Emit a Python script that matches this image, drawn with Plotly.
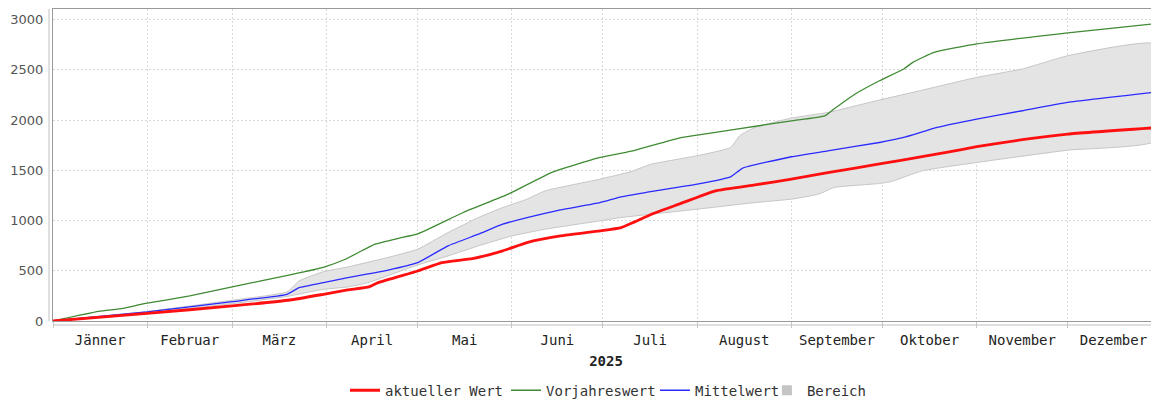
import plotly.graph_objects as go

# ---------------- data ----------------
red_dates = ["2025-01-01", "2025-02-01", "2025-03-01", "2025-03-20", "2025-03-31", "2025-04-08",
             "2025-04-15", "2025-04-18", "2025-05-01", "2025-05-09", "2025-05-19", "2025-05-29",
             "2025-06-06", "2025-06-17", "2025-06-30", "2025-07-07", "2025-07-17", "2025-07-26",
             "2025-08-07", "2025-08-20", "2025-09-01", "2025-09-13", "2025-09-22", "2025-10-08",
             "2025-10-22", "2025-11-01", "2025-11-16", "2025-12-01", "2025-12-31"]
red_vals = [0, 75, 150, 209, 266, 309, 339, 382, 498, 581, 621, 698,
            781, 847, 897, 930, 1063, 1163, 1296, 1355, 1412, 1478, 1522, 1605,
            1678, 1735, 1805, 1861, 1927]

green_dates = ["2025-01-01", "2025-01-16", "2025-01-24", "2025-01-31", "2025-02-15", "2025-03-01",
               "2025-03-20", "2025-03-31", "2025-04-07", "2025-04-17", "2025-04-25", "2025-05-01",
               "2025-05-16", "2025-05-31", "2025-06-14", "2025-06-30", "2025-07-10", "2025-07-26",
               "2025-08-01", "2025-08-14", "2025-09-01", "2025-09-12", "2025-09-15", "2025-09-22",
               "2025-09-30", "2025-10-08", "2025-10-11", "2025-10-18", "2025-11-01", "2025-12-01",
               "2025-12-31"]
green_vals = [0, 95, 125, 172, 250, 340, 460, 535, 612, 765, 825, 867,
              1080, 1265, 1478, 1628, 1688, 1821, 1851, 1910, 1993, 2043, 2110, 2260,
              2392, 2509, 2575, 2675, 2758, 2868, 2963]

blue_dates = ["2025-01-01", "2025-02-01", "2025-03-01", "2025-03-19", "2025-03-23", "2025-03-31",
              "2025-04-08", "2025-04-21", "2025-05-01", "2025-05-11", "2025-05-21", "2025-05-29",
              "2025-06-06", "2025-06-17", "2025-06-30", "2025-07-07", "2025-07-15", "2025-08-01",
              "2025-08-12", "2025-08-16", "2025-09-01", "2025-09-13", "2025-09-30", "2025-10-08",
              "2025-10-19", "2025-11-01", "2025-11-16", "2025-12-01", "2025-12-31"]
blue_vals = [0, 90, 193, 266, 332, 382, 432, 505, 581, 748, 864, 964,
             1030, 1106, 1179, 1236, 1279, 1362, 1435, 1522, 1635, 1694, 1777, 1827,
             1927, 2010, 2093, 2176, 2282]

upper_dates = ["2025-01-01", "2025-02-01", "2025-03-01", "2025-03-19", "2025-03-23", "2025-03-31",
               "2025-04-08", "2025-04-21", "2025-05-01", "2025-05-11", "2025-05-21", "2025-05-29",
               "2025-06-06", "2025-06-12", "2025-06-30", "2025-07-10", "2025-07-17", "2025-08-01",
               "2025-08-12", "2025-08-15", "2025-08-20", "2025-09-01", "2025-09-13", "2025-09-30",
               "2025-10-11", "2025-11-01", "2025-11-16", "2025-12-01", "2025-12-30"]
upper_vals = [0, 95, 206, 289, 399, 491, 538, 631, 714, 880, 1030, 1129,
              1213, 1296, 1412, 1485, 1562, 1645, 1727, 1844, 1927, 2020, 2076, 2200,
              2276, 2425, 2509, 2641, 2758]

lower_dates = ["2025-01-01", "2025-02-01", "2025-03-01", "2025-03-19", "2025-03-31", "2025-04-08",
               "2025-04-15", "2025-05-01", "2025-05-11", "2025-05-21", "2025-06-01", "2025-06-12",
               "2025-06-30", "2025-07-07", "2025-08-01", "2025-08-20", "2025-09-01", "2025-09-10",
               "2025-09-15", "2025-09-30", "2025-10-04", "2025-10-14", "2025-11-01", "2025-12-01",
               "2025-12-30"]
lower_vals = [0, 80, 172, 245, 316, 339, 385, 558, 648, 748, 847, 914,
              997, 1030, 1113, 1179, 1213, 1263, 1329, 1369, 1389, 1495, 1578, 1701,
              1794]

month_names = {"January": "Jänner", "February": "Februar", "March": "März", "April": "April",
               "May": "Mai", "June": "Juni", "July": "Juli", "August": "August",
               "September": "September", "October": "Oktober", "November": "November",
               "December": "Dezember"}

# band polygon: upper boundary forward, lower boundary backward
band_x = upper_dates + lower_dates[::-1]
band_y = upper_vals + lower_vals[::-1]

MONO = "DejaVu Sans Mono"
SANS = "DejaVu Sans"

fig = go.Figure()

fig.add_trace(go.Scatter(
    x=band_x, y=band_y, mode="lines", name="Bereich",
    fill="toself", fillcolor="#e4e4e4",
    line=dict(color="#c6c6c6", width=1, shape="spline", smoothing=0.4),
    showlegend=False, hoverinfo="skip",
))
# legend-only swatch for the band
fig.add_trace(go.Scatter(
    x=[None], y=[None], mode="markers", name="Bereich",
    marker=dict(symbol="square", size=10, color="#c4c4c4"),
    legend="legend4",
))
fig.add_trace(go.Scatter(
    x=green_dates, y=green_vals, mode="lines", name="Vorjahreswert",
    line=dict(color="#3f8a33", width=1.3, shape="spline", smoothing=0.4),
    legend="legend2",
))
fig.add_trace(go.Scatter(
    x=blue_dates, y=blue_vals, mode="lines", name="Mittelwert",
    line=dict(color="#2a2aff", width=1.3, shape="spline", smoothing=0.4),
    legend="legend3",
))
fig.add_trace(go.Scatter(
    x=red_dates, y=red_vals, mode="lines", name="aktueller Wert",
    line=dict(color="#ff1010", width=2.8, shape="spline", smoothing=0.4),
    legend="legend",
))

leg_common = dict(orientation="h", y=-0.172, yanchor="top", xanchor="left",
                  font=dict(family=MONO, size=14, color="#333333"),
                  itemwidth=30, bgcolor="rgba(0,0,0,0)")

fig.update_layout(
    width=1151, height=393,
    margin=dict(l=45, r=0, t=1, b=80, pad=0, autoexpand=False),
    paper_bgcolor="white", plot_bgcolor="white",
    showlegend=True,
    legend=dict(x=0.264, **leg_common),
    legend2=dict(x=0.4096, **leg_common),
    legend3=dict(x=0.5443, **leg_common),
    legend4=dict(x=0.6455, **leg_common),
    xaxis=dict(
        type="date", automargin=False,
        range=["2025-01-01", "2025-12-31"],
        dtick="M1", tick0="2025-01-01",
        tickformat="%B", ticklabelmode="period",
        labelalias=month_names,
        showgrid=True, gridcolor="#d8d8d8", griddash="2px,2px", gridwidth=1,
        ticks="outside", ticklen=6, tickcolor="#c8c8c8",
        showline=True, linecolor="#999999", linewidth=1, mirror=True,
        tickfont=dict(family=MONO, size=14, color="#222222"),
        title=dict(text="<b>2025</b>", font=dict(family=MONO, size=14, color="#222222"), standoff=9),
        zeroline=False,
    ),
    yaxis=dict(
        automargin=False,
        range=[0, 3106],
        dtick=500, tick0=0,
        showgrid=True, gridcolor="#d8d8d8", griddash="2px,2px", gridwidth=1,
        showline=True, linecolor="#999999", linewidth=1, mirror=True,
        ticks="", ticklabelstandoff=6,
        tickfont=dict(family=SANS, size=13, color="#555555"),
        zeroline=False,
    ),
    shapes=[
        dict(type="line", xref="paper", yref="paper", x0=0, x1=1, y0=-0.0128, y1=-0.0128,
             line=dict(color="#c0c0c0", width=1)),
        dict(type="line", xref="paper", yref="paper", x0=-0.0036, x1=-0.0036, y0=0, y1=1,
             line=dict(color="#c0c0c0", width=1)),
    ],
)

fig.write_html("out.html")
